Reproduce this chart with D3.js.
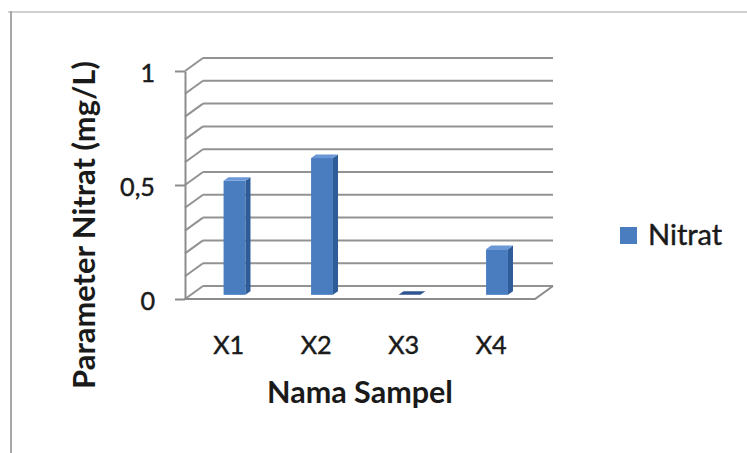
<!DOCTYPE html>
<html>
<head>
<meta charset="utf-8">
<script src="https://cdn.jsdelivr.net/npm/d3@7"></script>
<style>
  html, body { margin: 0; padding: 0; background: #fff; }
  svg { display: block; }
  text { font-family: Lato, "Open Sans", sans-serif; fill: #1a1a1a; }
  text.reg { stroke: #1a1a1a; stroke-width: 0.45px; }
</style>
</head>
<body>
<svg id="chart" width="747" height="453"></svg>
<script>
// Nitrate measurement per sample
const categories = ["X1", "X2", "X3", "X4"];
const nitrat = [0.5, 0.6, 0, 0.2];
const yTickValues = [0, 0.5, 1];
const gridValues = [0, 0.1, 0.2, 0.3, 0.4, 0.5, 0.6, 0.7, 0.8, 0.9, 1];
const seriesName = "Nitrat";
const xTitle = "Nama Sampel";
const yTitle = "Parameter Nitrat (mg/L)";

const svg = d3.select("#chart");

// Outer chart frame (top and left edges visible)
svg.append("line").attr("x1", 8).attr("x2", 747).attr("y1", 12).attr("y2", 12)
  .attr("stroke", "#d0d0d0").attr("stroke-width", 2);
svg.append("line").attr("x1", 11).attr("x2", 11).attr("y1", 11).attr("y2", 453)
  .attr("stroke", "#a8a8a8").attr("stroke-width", 2);

// Front plane scales and the oblique depth vector of the 3D box
const x = d3.scaleBand().domain(categories).range([185, 535]);
const y = d3.scaleLinear().domain([0, 1]).range([299, 71]);
const DX = 18, DY = -13;

const grid = svg.append("g").attr("fill", "none").attr("stroke", "#929292").attr("stroke-width", 2);

// Back wall gridlines and left wall diagonals
gridValues.forEach(v => {
  const yf = y(v);
  grid.append("line")
    .attr("x1", x.range()[0] + DX).attr("x2", x.range()[1] + DX)
    .attr("y1", yf + DY).attr("y2", yf + DY);
  grid.append("line")
    .attr("x1", x.range()[0]).attr("y1", yf)
    .attr("x2", x.range()[0] + DX).attr("y2", yf + DY);
});

// Floor outline: right edge and front edge
grid.append("path")
  .attr("d", `M${x.range()[1] + DX},${y(0) + DY} L${x.range()[1]},${y(0)} L${x.range()[0]},${y(0)}`)
  .attr("stroke", "#8c8c8c");

// Value axis on the front left edge
const yAxis = d3.axisLeft(y)
  .tickValues(yTickValues)
  .tickFormat(d => String(d).replace(".", ","))
  .tickSize(10)
  .tickSizeOuter(0)
  .tickPadding(20);
const yAxisG = svg.append("g").attr("transform", `translate(${x.range()[0]},0)`).call(yAxis);
yAxisG.select(".domain").attr("stroke", "#8c8c8c").attr("stroke-width", 2);
yAxisG.selectAll(".tick line").attr("stroke", "#8c8c8c").attr("stroke-width", 2);
yAxisG.selectAll(".tick text")
  .attr("class", "reg")
  .style("font-family", "Lato, 'Open Sans', sans-serif")
  .attr("fill", "#1a1a1a").attr("dy", "0.42em");

// 3D bars: front face, right side face, top face
const barFront = 0.32, barBack = 0.6;   // depth positions as fractions of the box depth
const barWidth = x.bandwidth() * 0.25;
const bars = svg.append("g");
categories.forEach((c, i) => {
  const v = nitrat[i];
  const cx = x(c) + x.bandwidth() / 2;
  const x0 = cx - barWidth / 2 + DX * barFront;
  const x1 = x0 + barWidth;
  const yb = y(0) + DY * barFront;
  const yt = y(v) + DY * barFront;
  const ox = DX * (barBack - barFront), oy = DY * (barBack - barFront);
  const g = bars.append("g");
  if (yb - yt > 0.5) {
    g.append("rect").attr("x", x0).attr("y", yt).attr("width", barWidth).attr("height", yb - yt)
      .attr("fill", "#4a7cc0");
    g.append("path")
      .attr("d", `M${x1},${yt} L${x1 + ox},${yt + oy} L${x1 + ox},${yb + oy} L${x1},${yb} Z`)
      .attr("fill", "#2e5c98");
  }
  g.append("path")
    .attr("d", `M${x0},${yt} L${x1},${yt} L${x1 + ox},${yt + oy} L${x0 + ox},${yt + oy} Z`)
    .attr("fill", v > 0 ? "#6a98d6" : "#2f548f");
});

// Fit a text element to a target width by adjusting its font size
function fitWidth(sel, target) {
  const node = sel.node();
  const w = node.getBBox().width;
  const fs = parseFloat(sel.style("font-size"));
  sel.style("font-size", (fs * target / w) + "px");
}

// Category labels
const xLabels = svg.append("g");
categories.forEach(c => {
  xLabels.append("text").attr("class", "reg")
    .attr("x", x(c) + x.bandwidth() / 2).attr("y", 354)
    .attr("text-anchor", "middle").style("font-size", "26px").text(c);
});
const refLabel = xLabels.select("text:nth-child(2)");
fitWidth(refLabel, 31);
const labelSize = refLabel.style("font-size");
xLabels.selectAll("text").style("font-size", labelSize);
yAxisG.selectAll(".tick text").style("font-size", labelSize);

// Axis titles
const xt = svg.append("text").attr("x", 360).attr("y", 403).attr("text-anchor", "middle")
  .style("font-size", "28px").style("font-weight", "bold").text(xTitle);
fitWidth(xt, 186);

const yt = svg.append("text").attr("transform", "translate(95,225) rotate(-90)")
  .attr("text-anchor", "middle")
  .style("font-size", "24px").style("font-weight", "bold").text(yTitle);
fitWidth(yt, 328);

// Legend
const legend = svg.append("g");
legend.append("rect").attr("x", 620).attr("y", 227).attr("width", 17).attr("height", 17)
  .attr("fill", "#4a7cc0");
const lt = legend.append("text").attr("class", "reg").attr("x", 648).attr("y", 245)
  .style("font-size", "26px").text(seriesName);
fitWidth(lt, 75);
</script>
</body>
</html>
